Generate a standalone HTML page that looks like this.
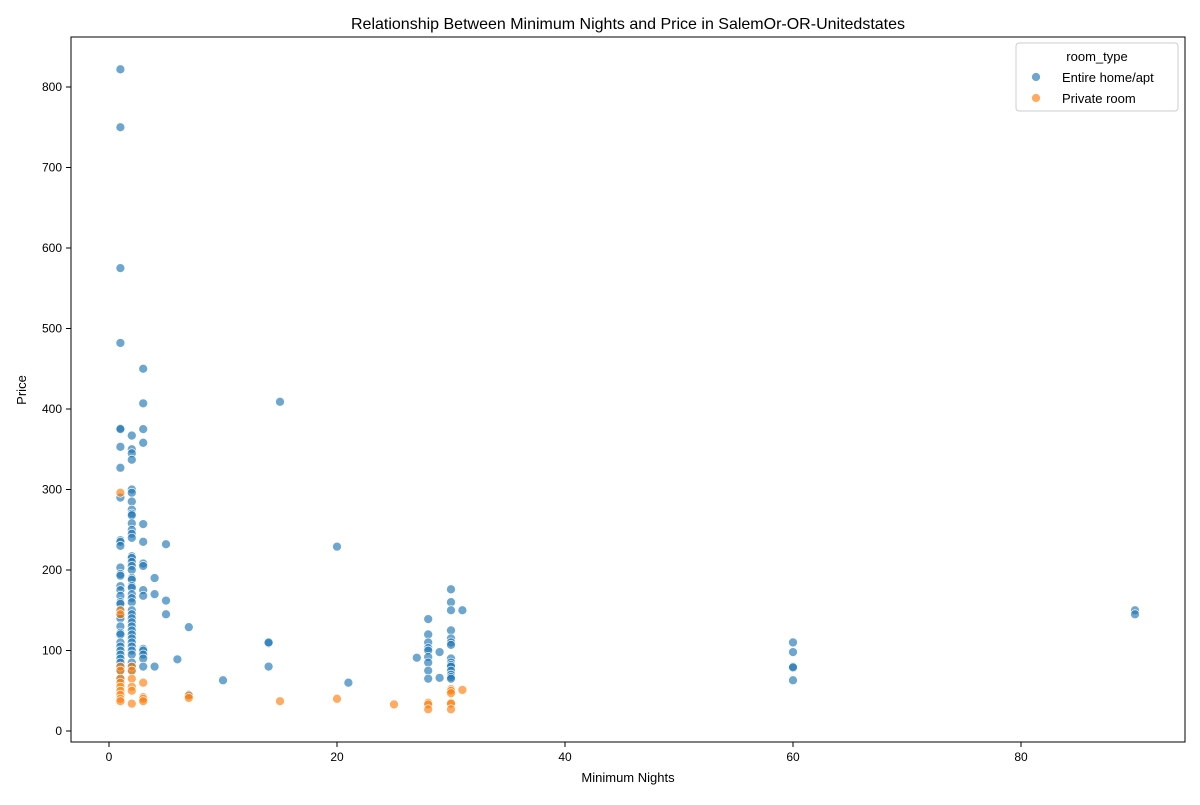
<!DOCTYPE html>
<html><head><meta charset="utf-8"><style>
body{margin:0;background:#fff;font-family:"Liberation Sans",sans-serif}
svg text{font-family:"Liberation Sans",sans-serif;fill:#000}
</style></head><body>
<svg id="c" width="1200" height="800">
<text x="628" y="29" font-size="16" text-anchor="middle">Relationship Between Minimum Nights and Price in SalemOr-OR-Unitedstates</text>
<rect x="71" y="37" width="1114" height="705" fill="none" stroke="#000" stroke-width="1"/>
<g id="ticks"></g>
<g id="pts"></g>
<text x="628" y="782" font-size="13" text-anchor="middle">Minimum Nights</text>
<text x="26" y="390" font-size="13" text-anchor="middle" transform="rotate(-90 26 390)">Price</text>
<g>
<rect x="1016" y="43" width="162" height="68" rx="3" fill="#fff" fill-opacity="0.8" stroke="#ccc"/>
<text x="1097" y="61" font-size="13" text-anchor="middle">room_type</text>
<circle cx="1036" cy="77" r="4.5" fill="#1f77b4" fill-opacity="0.65" stroke="#fff" stroke-width="0.7"/>
<text x="1062" y="82" font-size="13">Entire home/apt</text>
<circle cx="1036" cy="98" r="4.5" fill="#ff7f0e" fill-opacity="0.65" stroke="#fff" stroke-width="0.7"/>
<text x="1062" y="103" font-size="13">Private room</text>
</g>
</svg>
<script>
const xTicks=[0,20,40,60,80];
const yTicks=[0,100,200,300,400,500,600,700,800];
const entireX=[1,1,1,1,1,1,1,1,1,1,1,1,1,1,1,1,1,1,1,1,1,1,1,1,1,1,1,1,1,1,1,1,1,1,1,1,
2,2,2,2,2,2,2,2,2,2,2,2,2,2,2,2,2,2,2,2,2,2,2,2,2,2,2,2,2,2,2,2,2,2,2,2,2,2,2,2,2,
3,3,3,3,3,3,3,3,3,3,3,3,3,3,3,4,4,4,5,5,5,6,7,7,10,14,14,14,15,20,21,27,
28,28,28,28,28,28,28,28,28,29,29,30,30,30,30,30,30,30,30,30,30,30,30,30,30,30,31,60,60,60,60,60,90,90];
const entireY=[822,750,575,482,376,375,353,327,290,237,235,230,203,195,193,180,175,168,160,158,150,145,143,140,130,122,120,110,105,100,95,90,85,80,75,65,
367,350,345,337,300,296,285,275,270,268,258,250,245,240,217,215,210,205,200,190,188,180,178,170,165,160,150,145,140,135,130,125,120,115,110,105,100,95,85,80,75,
450,407,375,358,257,235,208,205,175,168,102,100,95,90,80,190,170,80,232,162,145,89,129,45,63,109,110,80,409,229,60,91,
139,120,110,103,100,92,85,75,65,98,66,176,160,150,125,115,110,107,90,85,82,80,75,70,67,65,150,110,98,80,79,63,150,145];
const privX=[1,1,1,1,1,1,1,1,1,1,1,1,2,2,2,2,2,2,3,3,3,3,7,7,15,20,25,28,28,28,30,30,30,30,30,30,31];
const privY=[296,150,145,80,75,65,60,55,50,45,40,37,80,75,65,55,50,34,60,42,40,37,44,41,37,40,33,35,33,27,52,50,47,35,34,27,51];
const sx=v=>109+v*11.4, sy=v=>731-v*0.805;
const NS='http://www.w3.org/2000/svg';
const tg=document.getElementById('ticks'), pg=document.getElementById('pts');
function mk(tag,a,p){const e=document.createElementNS(NS,tag);for(const k in a)e.setAttribute(k,a[k]);p.appendChild(e);return e;}
xTicks.forEach(t=>{mk('line',{x1:sx(t),x2:sx(t),y1:742,y2:747,stroke:'#000'},tg);
const e=mk('text',{x:sx(t),y:761,'font-size':12,'text-anchor':'middle'},tg);e.textContent=t;

});
yTicks.forEach(t=>{mk('line',{x1:66,x2:71,y1:sy(t),y2:sy(t),stroke:'#000'},tg);
const e=mk('text',{x:62,y:sy(t)+4,'font-size':12,'text-anchor':'end'},tg);e.textContent=t;

});
function plot(xs,ys,col,name){xs.forEach((x,i)=>{const c=mk('circle',{cx:sx(x),cy:sy(ys[i]),r:4.5,fill:col,'fill-opacity':0.65,stroke:'#fff','stroke-width':0.7},pg);

});}
plot(entireX,entireY,'#1f77b4','point-entire-home');
plot(privX,privY,'#ff7f0e','point-private-room');
</script>
</body></html>
